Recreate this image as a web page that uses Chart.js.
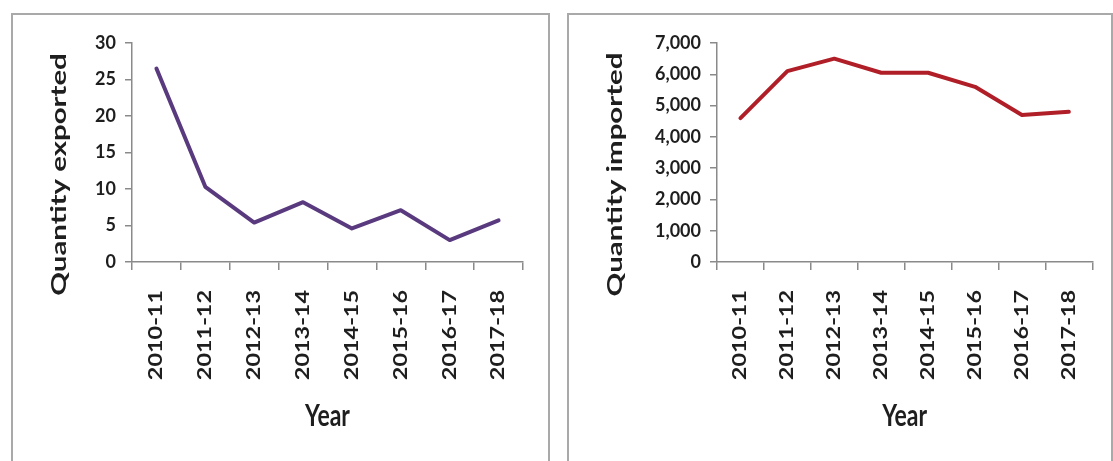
<!DOCTYPE html>
<html>
<head>
<meta charset="utf-8">
<script src="https://cdn.jsdelivr.net/npm/chart.js@4.4.1/dist/chart.umd.min.js"></script>
<style>
  html, body { margin: 0; padding: 0; background: #fff; width: 1113px; height: 461px; overflow: hidden; }
  .panel { position: absolute; top: 13px; height: 470px; border: 2px solid #a9a9a9; box-sizing: border-box; background: #fff; }
  #p1 { left: 11px; width: 539px; }
  #p2 { left: 567px; width: 546px; }
  .wrap { position: absolute; top: 15px; height: 446px; }
  #w1 { left: 13px; width: 535px; }
  #w2 { left: 569px; width: 542px; }
</style>
</head>
<body>
<div class="panel" id="p1"></div>
<div class="panel" id="p2"></div>
<div class="wrap" id="w1"><canvas id="exportChart"></canvas></div>
<div class="wrap" id="w2"><canvas id="importChart"></canvas></div>
<script>
// Financial years on the category axis
const years = ['2010-11', '2011-12', '2012-13', '2013-14', '2014-15', '2015-16', '2016-17', '2017-18'];

// Quantity exported per year
const exported = [26.5, 10.3, 5.4, 8.2, 4.6, 7.1, 3.0, 5.7];

// Quantity imported per year
const imported = [4600, 6100, 6500, 6050, 6050, 5600, 4700, 4800];

// Value-axis ranges
const exportAxis = { max: 30, step: 5 };
const importAxis = { max: 7000, step: 1000 };

const INK = '#1e1e1e';
const AXIS = '#8a8a8a';
const FONT = 'Lato, "Liberation Sans", sans-serif';
const TALL = 1.3;        // vertical stretch for category labels and the "Year" title
const TALL_Y = 1.4;      // stretch along the rotated value-axis title
const Y_TITLE_SHIFT = 22; // value-axis title sits a little below the plot's middle

function stretchAbout(ctx, y0, k, shift, fn) {
  ctx.save();
  ctx.translate(0, y0 + shift);
  ctx.scale(1, k);
  ctx.translate(0, -y0);
  fn();
  ctx.restore();
}

// Draws the category labels and the axis titles with condensed, tall letterforms
const tallText = {
  id: 'tallText',
  afterLayout(chart) {
    const xs = chart.scales.x, ys = chart.scales.y;
    if (xs._tallDone) return;
    xs._tallDone = true;
    const xLabels = xs.drawLabels.bind(xs);
    xs.drawLabels = function (area) {
      const o = this.options;
      const y0 = this.top + o.grid.tickLength + o.ticks.padding;
      stretchAbout(this.ctx, y0, TALL, 0, () => xLabels(area));
    };
    const xTitle = xs.drawTitle.bind(xs);
    xs.drawTitle = function () {
      const t = this.options.title;
      const lh = Chart.helpers.toFont(t.font).lineHeight;
      const y0 = this.bottom - lh / 2 - t.padding.bottom;
      stretchAbout(this.ctx, y0, TALL, 0, () => xTitle());
    };
    const yTitle = ys.drawTitle.bind(ys);
    ys.drawTitle = function () {
      const y0 = (this.top + this.bottom) / 2;
      stretchAbout(this.ctx, y0, TALL_Y, Y_TITLE_SHIFT, () => yTitle());
    };
  }
};

function makeChart(id, values, color, yLabel, axis, axisWidth, rightPad) {
  return new Chart(document.getElementById(id), {
    type: 'line',
    data: {
      labels: years,
      datasets: [{
        data: values,
        borderColor: color,
        backgroundColor: color,
        borderWidth: 4,
        pointRadius: 0,
        tension: 0,
        borderJoinStyle: 'round',
        borderCapStyle: 'round'
      }]
    },
    plugins: [tallText],
    options: {
      responsive: true,
      maintainAspectRatio: false,
      animation: false,
      layout: { padding: { top: 28, right: rightPad, bottom: 0, left: 0 } },
      plugins: { legend: { display: false }, tooltip: { enabled: false } },
      scales: {
        x: {
          type: 'category',
          offset: true,
          grid: { display: true, drawOnChartArea: false, drawTicks: true, tickLength: 8, offset: true, color: AXIS, lineWidth: 1.5 },
          border: { display: true, color: AXIS, width: 1.5 },
          ticks: { minRotation: 90, maxRotation: 90, autoSkip: false, padding: 20, color: INK, font: { family: FONT, size: 18, weight: 'bold' } },
          title: { display: true, text: 'Year', color: INK, font: { family: FONT, size: 23, weight: 'bold' }, padding: { top: 0, bottom: 31 } },
          afterFit(scale) { scale.height = 199; }
        },
        y: {
          min: 0,
          max: axis.max,
          grid: { display: true, drawOnChartArea: false, drawTicks: true, tickLength: 7, color: AXIS, lineWidth: 1.5 },
          border: { display: true, color: AXIS, width: 1.5 },
          ticks: {
            stepSize: axis.step,
            padding: 9,
            color: INK,
            font: { family: FONT, size: 18, weight: 'bold' },
            callback: (v) => Number(v).toLocaleString('en-US')
          },
          title: { display: true, text: yLabel, color: INK, font: { family: FONT, size: 21, weight: 'bold' }, padding: { top: 34, bottom: 0 } },
          afterFit(scale) { scale.width = axisWidth; }
        }
      }
    }
  });
}

function build() {
  makeChart('exportChart', exported, '#5a3a7e', 'Quantity exported', exportAxis, 119, 25);
  makeChart('importChart', imported, '#b01f28', 'Quantity imported', importAxis, 148, 9);
}

if (document.fonts && document.fonts.load) {
  Promise.all([
    document.fonts.load('bold 18px Lato'),
    document.fonts.load('bold 23px Lato')
  ]).then(build, build);
} else {
  build();
}
</script>
</body>
</html>
